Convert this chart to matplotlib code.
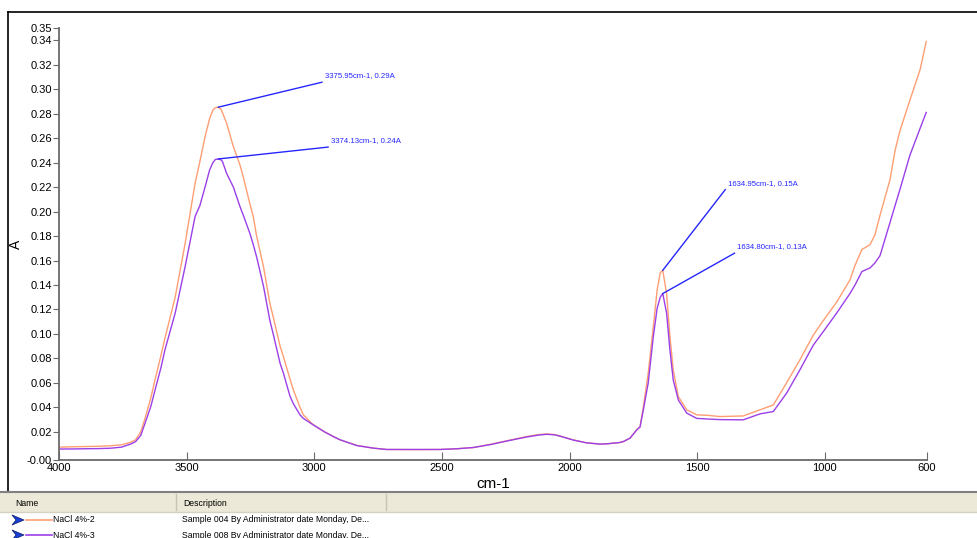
import numpy as np
import matplotlib as mpl
mpl.use('Agg')
import matplotlib.pyplot as plt
from matplotlib.patches import Rectangle, Polygon
from matplotlib.lines import Line2D
from matplotlib.ticker import FormatStrFormatter

W, H = 978, 538
FONT = 'Liberation Sans'

# Data (wavenumber cm-1, absorbance A)
wavenumber = [4000, 3950, 3900, 3850, 3800, 3755, 3720, 3700, 3680, 3663, 3640, 3624, 3600, 3585,
              3545, 3506, 3467, 3448, 3428, 3410, 3397, 3388, 3376, 3365, 3360, 3343, 3317, 3291,
              3278, 3252, 3239, 3226, 3199, 3174, 3161, 3134, 3121, 3095, 3082, 3056, 3043, 3004,
              2960, 2926, 2899, 2834, 2769, 2716, 2600, 2508, 2440, 2377, 2310, 2246, 2168, 2120,
              2090, 2060, 2038, 1986, 1933, 1881, 1855, 1803, 1789, 1763, 1737, 1724, 1711, 1692,
              1672, 1657, 1645, 1635, 1620, 1607, 1594, 1574, 1541, 1502, 1460, 1411, 1320, 1254,
              1202, 1150, 1098, 1045, 1006, 954, 902, 882, 855, 823, 804, 784, 745, 725, 706, 667,
              627, 603]
nacl_2 = [0.0075, 0.0078, 0.0080, 0.0082, 0.0086, 0.0094, 0.0115, 0.0135, 0.020, 0.031, 0.048, 0.0625,
          0.083, 0.0965, 0.130, 0.174, 0.223, 0.241, 0.261, 0.276, 0.283, 0.2848, 0.2853, 0.2835,
          0.281, 0.272, 0.253, 0.238, 0.228, 0.206, 0.196, 0.180, 0.155, 0.125, 0.114, 0.090, 0.0815,
          0.063, 0.0543, 0.040, 0.0339, 0.0257, 0.020, 0.0162, 0.0135, 0.0090, 0.0067, 0.0056,
          0.0055, 0.0056, 0.0062, 0.0072, 0.0098, 0.0127, 0.0162, 0.0178, 0.0183, 0.0178, 0.0167,
          0.0135, 0.0110, 0.0100, 0.0102, 0.0113, 0.0121, 0.0149, 0.0216, 0.0243, 0.0407, 0.068,
          0.106, 0.136, 0.150, 0.152, 0.133, 0.098, 0.0706, 0.0488, 0.038, 0.0339, 0.0335, 0.0325,
          0.033, 0.038, 0.042, 0.060, 0.0788, 0.0992, 0.111, 0.126, 0.144, 0.156, 0.169, 0.173,
          0.181, 0.197, 0.226, 0.250, 0.266, 0.291, 0.316, 0.339]
nacl_3 = [0.0060, 0.0060, 0.0062, 0.0063, 0.0066, 0.0075, 0.0100, 0.0120, 0.017, 0.027, 0.041, 0.054,
          0.073, 0.087, 0.117, 0.155, 0.196, 0.205, 0.220, 0.234, 0.240, 0.2425, 0.243, 0.2422,
          0.241, 0.231, 0.220, 0.204, 0.197, 0.182, 0.173, 0.163, 0.139, 0.111, 0.100, 0.076, 0.068,
          0.049, 0.043, 0.0339, 0.031, 0.0257, 0.020, 0.0162, 0.0135, 0.0088, 0.0067, 0.0056,
          0.0056, 0.0056, 0.0062, 0.0072, 0.0096, 0.0125, 0.0158, 0.0174, 0.0180, 0.0176, 0.0165,
          0.0133, 0.0110, 0.0100, 0.0102, 0.0113, 0.0121, 0.0149, 0.0216, 0.024, 0.038, 0.060,
          0.098, 0.121, 0.130, 0.133, 0.117, 0.087, 0.0624, 0.046, 0.0353, 0.031, 0.0305, 0.0300,
          0.0298, 0.0347, 0.0366, 0.0516, 0.0706, 0.091, 0.102, 0.117, 0.133, 0.140, 0.151, 0.154,
          0.158, 0.164, 0.191, 0.205, 0.218, 0.246, 0.268, 0.281]

series_names = ['NaCl 4%-2', 'NaCl 4%-3']
series_desc = ['Sample 004 By Administrator date Monday, De...',
               'Sample 008 By Administrator date Monday, De...']
colors = ['#ff9e73', '#9b3fe8']

peak_labels = ['3375.95cm-1, 0.29A', '3374.13cm-1, 0.24A',
               '1634.95cm-1, 0.15A', '1634.80cm-1, 0.13A']
peak_windows = [(3500, 3250), (3500, 3250), (1700, 1580), (1700, 1580)]
peak_series = [0, 1, 0, 1]
# where the leader line ends, relative to the peak (cm-1, A)
label_offsets = [(-406, 0.0204), (-430, 0.0097), (-245, 0.066), (-281, 0.033)]

yticks = [-0.003] + list(np.arange(0.02, 0.345, 0.02)) + [0.35]


def px(x, y):
    return x / W, 1 - y / H


fig = plt.figure(figsize=(W / 100, H / 100), dpi=100)
fig.patch.set_facecolor('white')

# window frame and the list panel under the plot
fig.add_artist(Line2D([8 / W, 1], [1 - 12 / H] * 2, color='black', lw=1.2))
fig.add_artist(Line2D([8 / W] * 2, [1 - 12 / H, 1 - 492 / H], color='black', lw=1.2))
fig.add_artist(Rectangle(px(0, 512), 1, 20 / H, facecolor='#ece9d8', edgecolor='none'))
fig.add_artist(Line2D([0, 1], [1 - 492 / H] * 2, color='#808080', lw=1.5))
fig.add_artist(Line2D([0, 1], [1 - 512 / H] * 2, color='#d6d2c2', lw=1.0))
for sx in (176, 386):
    fig.add_artist(Line2D([sx / W] * 2, [1 - 494 / H, 1 - 510 / H], color='#c8c4b4', lw=1.0))
fig.text(*px(15, 503), 'Name', fontsize=6.2, family=FONT, va='center')
fig.text(*px(183, 503), 'Description', fontsize=6.2, family=FONT, va='center')

ax = fig.add_axes([59 / W, 78 / H, 868 / W, 432 / H])
series = [nacl_2, nacl_3]
for vals, col in zip(series, colors):
    ax.plot(wavenumber, vals, color=col, lw=1.0)

# peak annotations
wn = np.array(wavenumber)
for label, (hi, lo), si, (dx, dy) in zip(peak_labels, peak_windows, peak_series, label_offsets):
    vals = np.array(series[si])
    mask = (wn <= hi) & (wn >= lo)
    i = np.argmax(np.where(mask, vals, -1))
    x0, y0 = wn[i], vals[i]
    ax.plot([x0, x0 + dx], [y0, y0 + dy], color='#2626ff', lw=1.0)
    ax.annotate(label, xy=(x0 + dx, y0 + dy), xytext=(2, 4.5), textcoords='offset points',
                fontsize=5.6, family=FONT, color='#2626ff', va='center', ha='left')

ax.set_xlim(4000, 600)
ax.set_ylim(-0.003, 0.35)
ax.set_xticks([4000, 3500, 3000, 2500, 2000, 1500, 1000, 600])
ax.set_yticks(yticks)
ax.yaxis.set_major_formatter(FormatStrFormatter('%.2f'))
for s in ('top', 'right'):
    ax.spines[s].set_visible(False)
for s in ('left', 'bottom'):
    ax.spines[s].set_color('#6a6a6a')
    ax.spines[s].set_linewidth(1.3)
ax.tick_params(axis='y', direction='out', length=4, color='#6a6a6a', labelsize=8, pad=1)
ax.tick_params(axis='x', direction='in', length=6, color='#6a6a6a', labelsize=8, pad=2)
for lab in ax.get_xticklabels() + ax.get_yticklabels():
    lab.set_family(FONT)
ax.set_xlabel('cm-1', fontsize=11, family=FONT, labelpad=3)
ax.set_ylabel('A', fontsize=10, family=FONT)
ax.yaxis.set_label_coords(-0.042, 0.5)

# list rows: chevron icon, line sample, name, description
for k, (name, desc, col) in enumerate(zip(series_names, series_desc, colors)):
    yc = 520 + 15 * k
    chev = [(12, yc - 5), (24, yc), (12, yc + 5), (16, yc)]
    fig.add_artist(Polygon([px(a, b) for a, b in chev], closed=True,
                           facecolor='#1a3fd8', edgecolor='#0a1a60', lw=0.5))
    fig.add_artist(Line2D([26 / W, 52 / W], [1 - yc / H] * 2, color=col, lw=1.2))
    fig.text(*px(53, yc), name, fontsize=6.2, family=FONT, va='center')
    fig.text(*px(182, yc), desc, fontsize=6.2, family=FONT, va='center')

fig.savefig('out.png', dpi=100)
